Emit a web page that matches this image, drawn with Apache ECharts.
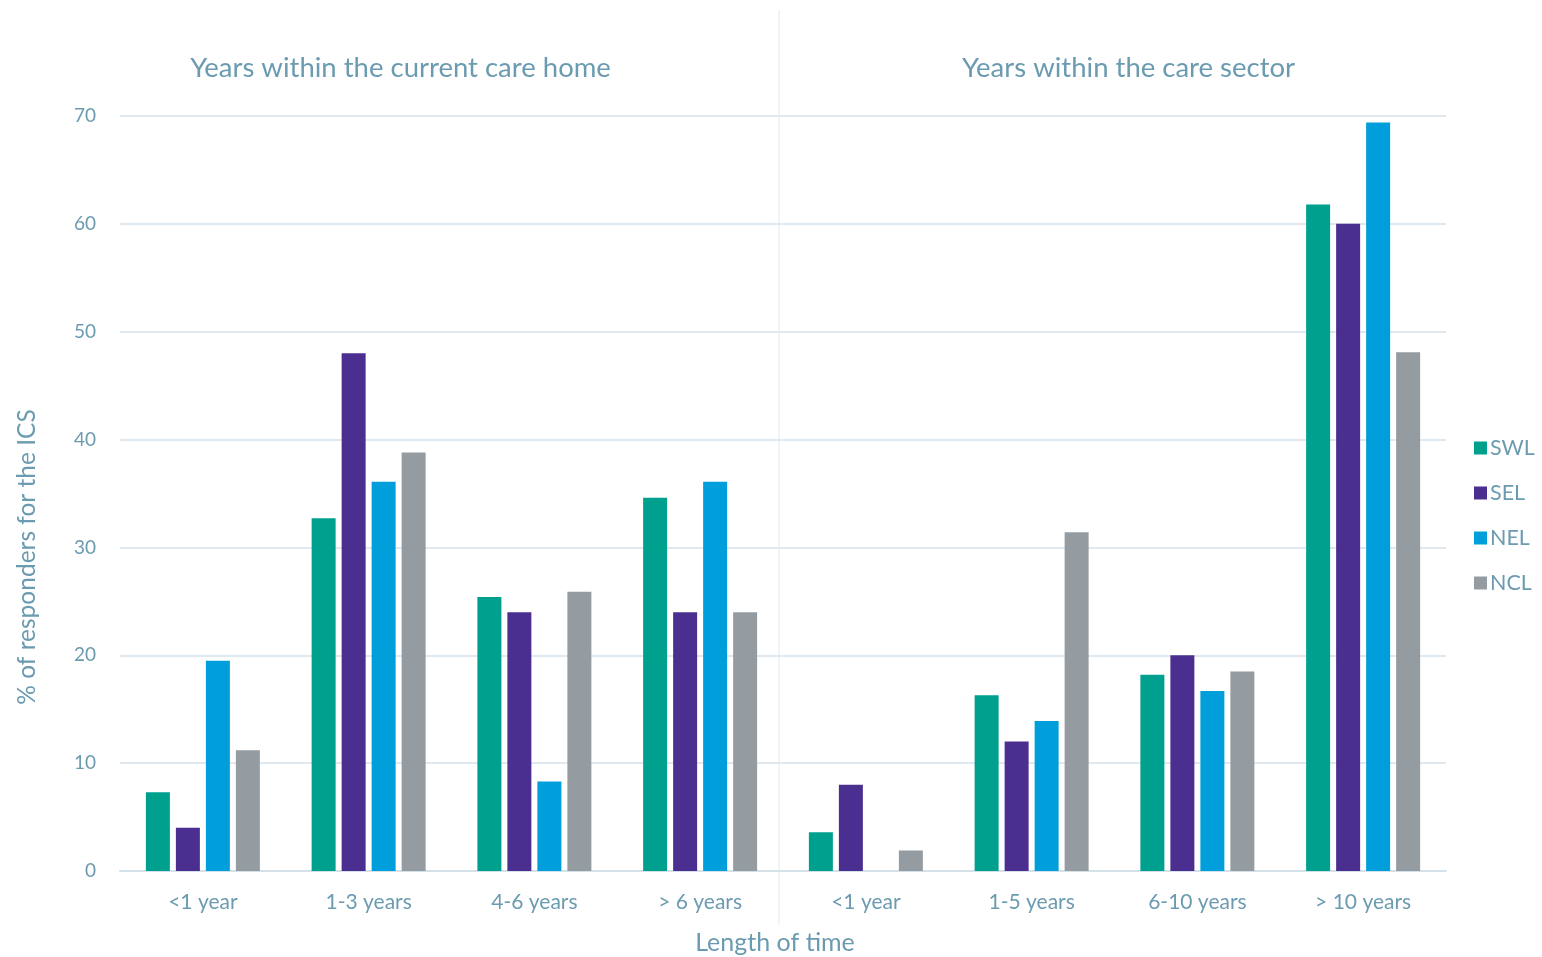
<!DOCTYPE html>
<html>
<head>
<meta charset="utf-8">
<script src="https://cdn.jsdelivr.net/npm/echarts@6/dist/echarts.min.js"></script>
<style>
  html, body { margin: 0; padding: 0; background: #fff; }
  #chart { width: 1542px; height: 957px; }
</style>
</head>
<body>
<div id="chart"></div>
<script>
var categories = [
  "<1 year", "1-3 years", "4-6 years", "> 6 years",
  "<1 year ", "1-5 years", "6-10 years", "> 10 years"
];
var panelTitles = ["Years within the current care home", "Years within the care sector"];
var seriesNames = ["SWL", "SEL", "NEL", "NCL"];
var swl = [7.3, 32.7, 25.4, 34.6, 3.6, 16.3, 18.2, 61.8];
var sel = [4.0, 48.0, 24.0, 24.0, 8.0, 12.0, 20.0, 60.0];
var nel = [19.5, 36.1, 8.3, 36.1, 0, 13.9, 16.7, 69.4];
var ncl = [11.2, 38.8, 25.9, 24.0, 1.9, 31.4, 18.5, 48.1];

var colors = ["#00a08f", "#4a2f91", "#009fdb", "#959ca1"];
var textColor = "#6b9bb0";
var fontFamily = "Lato, 'Open Sans', sans-serif";

var chart = echarts.init(document.getElementById("chart"));

function makeSeries(name, data, idx) {
  return {
    name: name,
    type: "bar",
    data: data,
    barWidth: 24,
    barGap: "25%",
    itemStyle: { color: colors[idx] },
    emphasis: { disabled: true }
  };
}

var option = {
  animation: false,
  textStyle: { fontFamily: fontFamily },
  grid: { left: 120, right: 96, top: 116, bottom: 86, containLabel: false, outerBoundsMode: "none" },
  legend: {
    orient: "vertical",
    left: 1469,
    top: 432,
    itemWidth: 13,
    itemHeight: 13,
    itemGap: 23,
    icon: "rect",
    selectedMode: false,
    data: seriesNames,
    textStyle: { color: textColor, fontSize: 21.5, fontFamily: fontFamily, padding: [0, 0, 0, -2] }
  },
  xAxis: {
    type: "category",
    data: categories,
    name: "Length of time",
    nameLocation: "middle",
    nameGap: 59,
    nameTextStyle: { color: textColor, fontSize: 25, fontFamily: fontFamily, padding: [0, 16, 0, 0] },
    axisLine: { lineStyle: { color: "#d5e1e8", width: 2 } },
    axisTick: { show: false },
    axisLabel: { color: textColor, fontSize: 21, margin: 21, fontFamily: fontFamily,
      formatter: function (v) { return v.trim(); } }
  },
  yAxis: {
    type: "value",
    min: 0,
    max: 70,
    interval: 10,
    axisLine: { show: false },
    axisTick: { show: false },
    axisLabel: { color: textColor, fontSize: 19, margin: 24, fontFamily: fontFamily },
    splitLine: { lineStyle: { color: "#dfe9ef", width: 2 } }
  },
  series: [
    makeSeries(seriesNames[0], swl, 0),
    makeSeries(seriesNames[1], sel, 1),
    makeSeries(seriesNames[2], nel, 2),
    makeSeries(seriesNames[3], ncl, 3)
  ]
};

chart.setOption(option);

// divider between the two panels, placed from the axis scale
var x3 = chart.convertToPixel({ xAxisIndex: 0 }, categories[3]);
var x4 = chart.convertToPixel({ xAxisIndex: 0 }, categories[4]);
var xMid = (x3 + x4) / 2;
var leftCenter = chart.convertToPixel({ xAxisIndex: 0 }, categories[1]) * 0.5 + chart.convertToPixel({ xAxisIndex: 0 }, categories[2]) * 0.5;
var rightCenter = chart.convertToPixel({ xAxisIndex: 0 }, categories[5]) * 0.5 + chart.convertToPixel({ xAxisIndex: 0 }, categories[6]) * 0.5;

chart.setOption({
  graphic: [
    {
      type: "line",
      shape: { x1: xMid - 4, y1: 10, x2: xMid - 4, y2: 925 },
      style: { stroke: "#e3e9ed", lineWidth: 1 },
      z: 0
    },
    {
      type: "text",
      x: leftCenter - 51,
      y: 68,
      style: { text: panelTitles[0], fill: textColor, fontSize: 27.5, fontFamily: fontFamily,
        textAlign: "center", textVerticalAlign: "middle" }
    },
    {
      type: "text",
      x: rightCenter + 14,
      y: 68,
      style: { text: panelTitles[1], fill: textColor, fontSize: 27.5, fontFamily: fontFamily,
        textAlign: "center", textVerticalAlign: "middle" }
    },
    {
      type: "text",
      x: 27,
      y: 557,
      rotation: Math.PI / 2,
      style: { text: "% of responders for the ICS", fill: textColor, fontSize: 24.5, fontFamily: fontFamily,
        textAlign: "center", textVerticalAlign: "middle" }
    }
  ]
});
</script>
</body>
</html>
